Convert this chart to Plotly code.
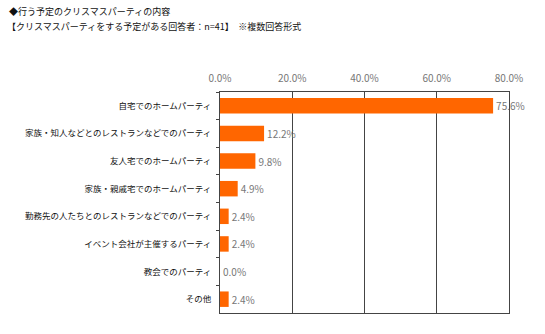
import plotly.graph_objects as go

categories = [
    "自宅でのホームパーティ",
    "家族・知人などとのレストランなどでのパーティ",
    "友人宅でのホームパーティ",
    "家族・親戚宅でのホームパーティ",
    "勤務先の人たちとのレストランなどでのパーティ",
    "イベント会社が主催するパーティ",
    "教会でのパーティ",
    "その他",
]
values = [75.6, 12.2, 9.8, 4.9, 2.4, 2.4, 0.0, 2.4]
tick_vals = [0, 20, 40, 60, 80]
tick_text = ["0.0%", "20.0%", "40.0%", "60.0%", "80.0%"]
title_1 = "◆行う予定のクリスマスパーティの内容"
title_2 = "【クリスマスパーティをする予定がある回答者：n=41】　※複数回答形式"

FONT = "Noto Sans CJK JP"
L, R, T, B, W, H = 220, 36, 92, 21, 545, 334

fig = go.Figure(go.Bar(
    y=categories, x=values, orientation="h",
    marker=dict(color="#FF6600", line=dict(width=0)),
    width=0.56,
    text=[f"{v:.1f}%" for v in values],
    textposition="outside",
    textfont=dict(family=FONT, size=10, color="#777777"),
    cliponaxis=False,
))

pw, ph = W - L - R, H - T - B
def px(x): return (x - L) / pw
def py(y): return (H - B - y) / ph

fig.update_layout(
    width=W, height=H,
    margin=dict(l=L, r=R, t=T, b=B),
    paper_bgcolor="white", plot_bgcolor="white",
    showlegend=False,
    font=dict(family=FONT, size=9, color="#222222"),
    xaxis=dict(
        range=[0, 80], side="top", tickvals=tick_vals, ticktext=tick_text,
        showgrid=True, gridcolor="#444444", gridwidth=1,
        showline=True, linecolor="#444444", mirror=True, linewidth=1,
        zeroline=False, ticks="", tickfont=dict(color="#777777", size=10),
        ticklabelstandoff=5, automargin=False,
    ),
    yaxis=dict(
        autorange="reversed", showline=True, linecolor="#444444", mirror=True,
        linewidth=1, ticks="outside", ticklen=3, tickcolor="#444444",
        tickson="boundaries", tickfont=dict(color="#111111", size=8.5),
        ticklabelstandoff=6, automargin=False,
    ),
    annotations=[
        dict(text=title_1, x=px(7), y=py(12), xref="paper", yref="paper",
             xanchor="left", yanchor="middle", showarrow=False,
             font=dict(size=9, color="#111111")),
        dict(text=title_2, x=px(5), y=py(27), xref="paper", yref="paper",
             xanchor="left", yanchor="middle", showarrow=False,
             font=dict(size=9, color="#111111")),
    ],
)

fig.write_html("out.html")
